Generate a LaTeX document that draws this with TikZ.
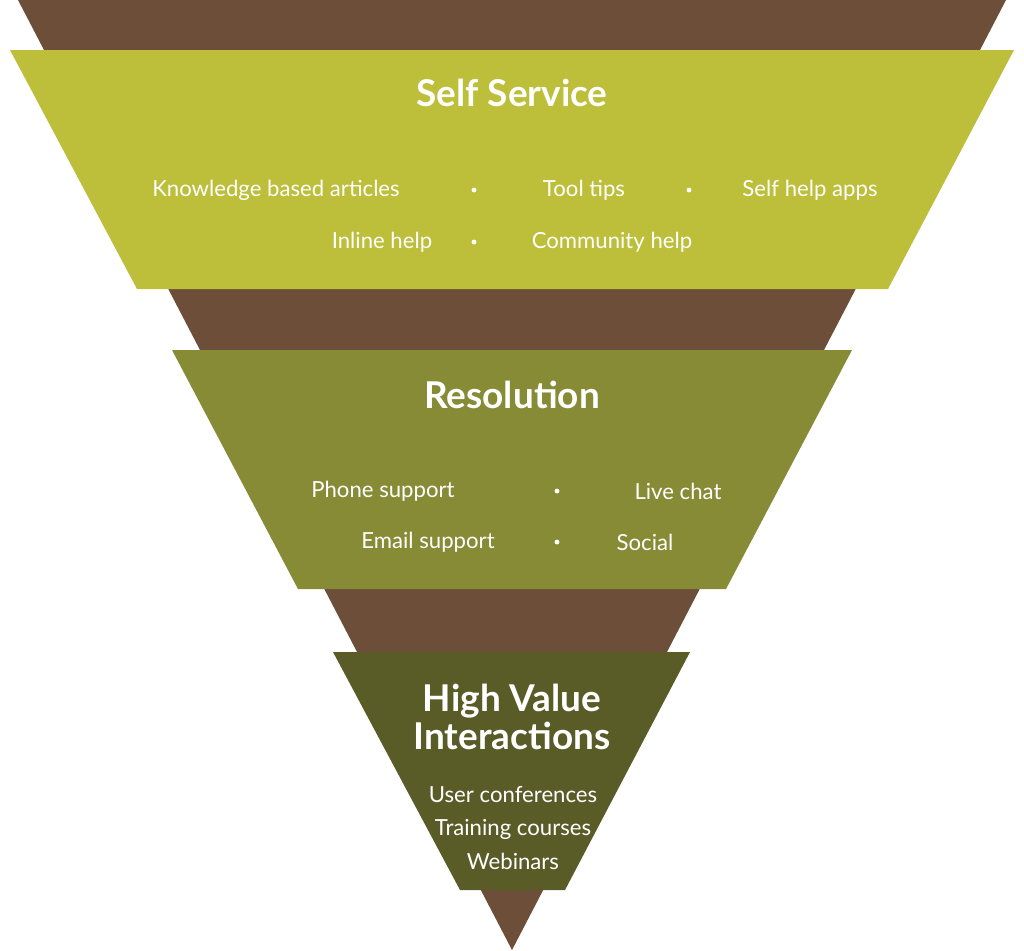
\documentclass[tikz,border=0pt]{standalone}
\usepackage{fontspec}
\setmainfont{Lato}
\definecolor{funnelbrown}{HTML}{6D4E38}
\definecolor{bandA}{HTML}{BDBE3A}
\definecolor{bandB}{HTML}{878B35}
\definecolor{bandC}{HTML}{5A5C28}
\begin{document}
\begin{tikzpicture}[x=0.01cm,y=-0.01cm,
    title/.style={text=white,font=\fontsize{10.5}{12}\selectfont\bfseries,align=center},
    item/.style={text=white,font=\fontsize{6.3}{7.5}\selectfont},
    dot/.style={circle,fill=white,inner sep=0pt,minimum size=1.4pt}]
		\useasboundingbox (0,0) rectangle (1024,950);
		% funnel background
		\fill[funnelbrown] (18,0) -- (1006,0) -- (512,950) -- cycle;

		% self service band
		\fill[bandA] (10,50) -- (1014,50) -- (888,289) -- (137,289) -- cycle;
		\node[title] (self) at (512,93) {Self Service};
		\node[item] (kba) at (276,190) {Knowledge based articles};
		\node[dot] (d1) at (474,190) {};
		\node[item] (tips) at (584,190) {Tool tips};
		\node[dot] (d2) at (689,190) {};
		\node[item] (apps) at (810,190) {Self help apps};
		\node[item] (inline) at (382,242) {Inline help};
		\node[dot] (d3) at (474,242) {};
		\node[item] (comm) at (612,242) {Community help};

		% resolution band
		\fill[bandB] (172,350) -- (852,350) -- (726,589) -- (298,589) -- cycle;
		\node[title] (res) at (512,395) {Resolution};
		\node[item] (phone) at (383,491) {Phone support};
		\node[dot] (d4) at (557,491) {};
		\node[item] (chat) at (678,491) {Live chat};
		\node[item] (email) at (428,542) {Email support};
		\node[dot] (d5) at (557,542) {};
		\node[item] (social) at (645,542) {Social};

		% high value band
		\fill[bandC] (333,652) -- (690,652) -- (565,890) -- (460,890) -- cycle;
		\node[title] (high) at (512,717) {High Value\\[-1pt]Interactions};
		\node[item,align=center] (events) at (513,828) {User conferences\\[2pt]Training courses\\[2pt]Webinars};
\end{tikzpicture}
\end{document}
